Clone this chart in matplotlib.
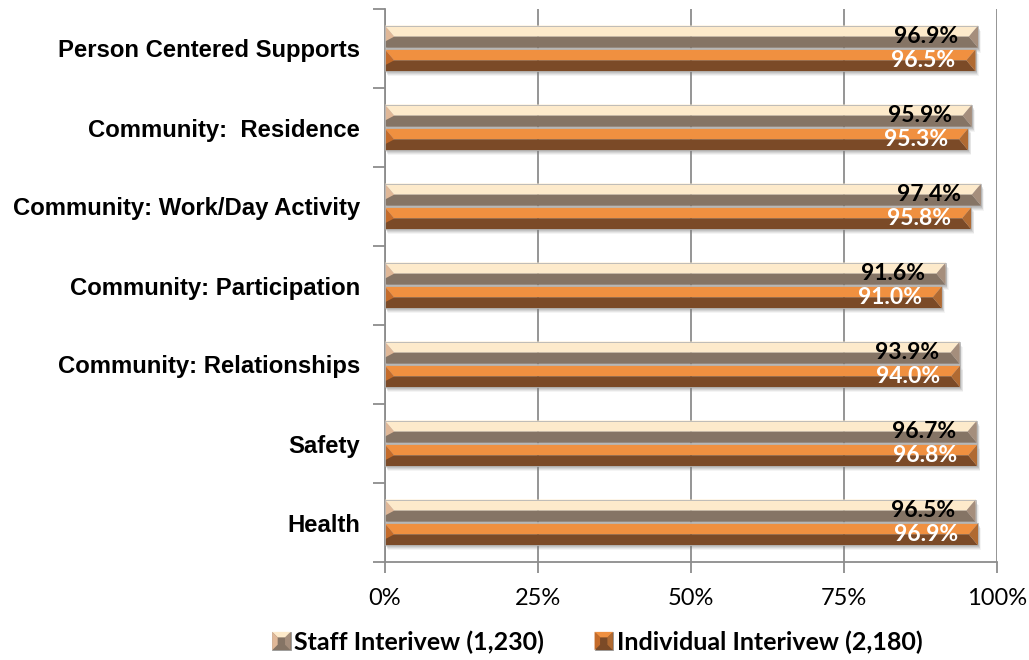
import matplotlib
matplotlib.use("Agg")
import matplotlib.pyplot as plt
import matplotlib.transforms as mtransforms
from matplotlib.patches import Polygon, Rectangle
from matplotlib.legend_handler import HandlerBase
import numpy as np

categories = [
    "Person Centered Supports",
    "Community:  Residence",
    "Community: Work/Day Activity",
    "Community: Participation",
    "Community: Relationships",
    "Safety",
    "Health",
]
staff = [96.9, 95.9, 97.4, 91.6, 93.9, 96.7, 96.5]
individual = [96.5, 95.3, 95.8, 91.0, 94.0, 96.8, 96.9]
series_names = ["Staff Interivew (1,230)", "Individual Interivew (2,180)"]
x_ticks = [0, 25, 50, 75, 100]
x_ticklabels = ["0%", "25%", "50%", "75%", "100%"]

# facet colours: top, bottom, left end, right end
STAFF_COLORS = ("#FDEACB", "#857465", "#E0B898", "#A58E7C")
INDIV_COLORS = ("#F09040", "#7B4A27", "#C46B2A", "#B06A32")

fig = plt.figure(figsize=(10.29, 6.6), dpi=100)
ax = fig.add_axes([385 / 1029, 98 / 660, 612 / 1029, 553 / 660])

BAR_H = 0.28
BEVEL_X = 1.5  # bevel depth along the value axis


def bevel_bar(ax, x1, y_top, h, colors, shadow=True):
    """Draw a horizontal bar with bevelled facets (y axis inverted)."""
    top_c, bot_c, left_c, right_c = colors
    x0 = 0.0
    yt, yb = y_top, y_top + h
    ym = y_top + h / 2
    d = BEVEL_X
    if shadow:
        for off, a in ((5, 0.08), (4, 0.12), (3, 0.16), (2, 0.2)):
            tr = mtransforms.offset_copy(ax.transData, fig=ax.figure,
                                         x=off * 0.6, y=-off, units="dots")
            ax.add_patch(Rectangle((x0, yt), x1, h, transform=tr,
                                   facecolor="#7f7f7f", alpha=a,
                                   edgecolor="none", zorder=2))
    ax.add_patch(Polygon([(x0, yt), (x1, yt), (x1 - d, ym), (x0 + d, ym)],
                         closed=True, facecolor=top_c, edgecolor="none", zorder=3))
    ax.add_patch(Polygon([(x0, ym), (x1 - d, ym), (x1, yb), (x0, yb)],
                         closed=True, facecolor=bot_c, edgecolor="none", zorder=3))
    ax.add_patch(Polygon([(x0, yt), (x0 + d, ym), (x0, ym + h * 0.22)],
                         closed=True, facecolor=left_c, edgecolor="none", zorder=4))
    ax.add_patch(Polygon([(x1, yt), (x1, yb), (x1 - d, ym)],
                         closed=True, facecolor=right_c, edgecolor="none", zorder=4))
    ax.add_patch(Rectangle((x0, yt), x1, h, facecolor="none",
                           edgecolor="#b5b5b5", lw=0.6, zorder=5))


y = np.arange(len(categories))
for yi, s, v in zip(y, staff, individual):
    bevel_bar(ax, s, yi - BAR_H - 0.01, BAR_H, STAFF_COLORS)
    bevel_bar(ax, v, yi + 0.01, BAR_H, INDIV_COLORS)
    ax.text(s - 3.3, yi - BAR_H / 2 - 0.01, f"{s:.1f}%", ha="right", va="center",
            fontsize=16.5, fontweight="bold", family="Lato", color="black", zorder=6)
    ax.text(v - 3.3, yi + BAR_H / 2 + 0.01, f"{v:.1f}%", ha="right", va="center",
            fontsize=16.5, fontweight="bold", family="Lato", color="white", zorder=6)

ax.set_xlim(0, 100)
ax.set_ylim(len(categories) - 0.5, -0.5)

ax.set_xticks(x_ticks)
ax.set_xticklabels(x_ticklabels, family="Lato", fontsize=17)
ax.set_yticks(y)
ax.set_yticklabels(categories, family="Liberation Sans", fontweight="bold", fontsize=17.2)
ax.set_yticks(np.arange(-0.5, len(categories), 1.0), minor=True)
ax.tick_params(axis="y", which="major", length=0, pad=18)
ax.tick_params(axis="y", which="minor", length=9, width=1.3, color="#8c8c8c")
ax.tick_params(axis="x", length=8, width=1.3, color="#8c8c8c", pad=11)

ax.xaxis.grid(True, color="#8c8c8c", lw=1.3, zorder=0)
ax.set_axisbelow(True)
for side in ("top", "right"):
    ax.spines[side].set_visible(False)
for side in ("left", "bottom"):
    ax.spines[side].set_color("#8c8c8c")
    ax.spines[side].set_linewidth(1.3)


class BevelHandler(HandlerBase):
    """Legend key drawn as a small bevelled square."""

    def __init__(self, colors):
        super().__init__()
        self.colors = colors

    def create_artists(self, legend, orig_handle, xdescent, ydescent,
                       width, height, fontsize, trans):
        top_c, bot_c, left_c, right_c = self.colors
        s = min(width, height)
        x0 = width - s - xdescent
        y0 = -ydescent + (height - s) / 2
        d = s * 0.3
        tl, tr = (x0, y0 + s), (x0 + s, y0 + s)
        bl, br = (x0, y0), (x0 + s, y0)
        itl, itr = (x0 + d, y0 + s - d), (x0 + s - d, y0 + s - d)
        ibl, ibr = (x0 + d, y0 + d), (x0 + s - d, y0 + d)
        return [
            Polygon([bl, br, tr, tl], closed=True, facecolor=bot_c,
                    edgecolor="#9a9a9a", lw=0.6, transform=trans),
            Polygon([tr, br, ibr, itr], closed=True, facecolor=right_c,
                    edgecolor="none", transform=trans),
            Polygon([tl, tr, itr, itl], closed=True, facecolor=top_c,
                    edgecolor="none", transform=trans),
            Polygon([tl, itl, ibl, bl], closed=True, facecolor=left_c,
                    edgecolor="none", transform=trans),
        ]


h_staff = Rectangle((0, 0), 1, 1)
h_indiv = Rectangle((0, 0), 1, 1)
leg = fig.legend([h_staff, h_indiv], series_names,
                 loc="center", bbox_to_anchor=(597 / 1029, 1 - 642 / 660),
                 ncol=2, frameon=False, handlelength=0.75, handleheight=0.75,
                 handletextpad=0.15, columnspacing=2.0,
                 prop={"family": "Lato", "weight": "bold", "size": 18},
                 handler_map={h_staff: BevelHandler(STAFF_COLORS),
                              h_indiv: BevelHandler(INDIV_COLORS)})

fig.savefig("out.png", dpi=100)
